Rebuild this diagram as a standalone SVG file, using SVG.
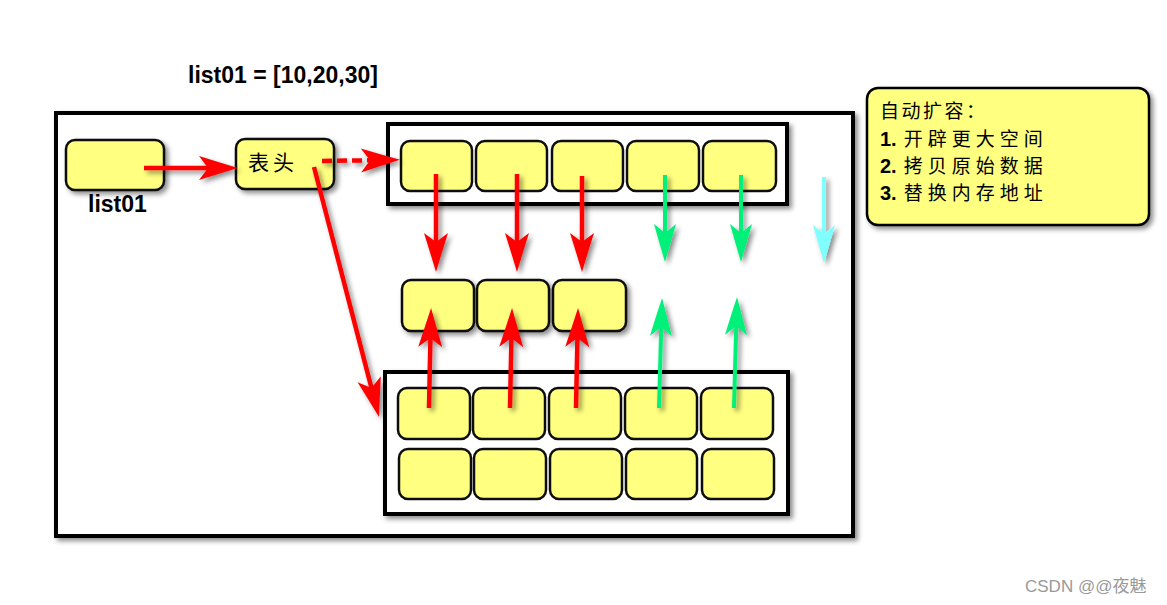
<svg xmlns="http://www.w3.org/2000/svg" width="1167" height="605" viewBox="0 0 1167 605">
<style>
  .box { fill: #ffffff; stroke: #000000; stroke-width: 4; }
  .cell { fill: #ffff80; stroke: #111111; stroke-width: 2.5; }
  .lbl { font-family: "Liberation Sans", Arial, sans-serif; font-weight: bold; fill: #000; }
  .cn { font-family: "Noto Sans CJK SC", sans-serif; fill: #000; }
  .red { stroke: #ff0000; stroke-width: 4.5; fill: none; }
  .green { stroke: #00f07a; stroke-width: 4; fill: none; }
  .cyan { stroke: #80ffff; stroke-width: 4; fill: none; }
</style>
<defs>
  <filter id="sh" x="-20%" y="-20%" width="150%" height="150%">
    <feDropShadow dx="3" dy="3" stdDeviation="2.5" flood-color="#000" flood-opacity="0.45"/>
  </filter>
  <marker id="hr" viewBox="-40 -13 42 26" refX="-12" refY="0" markerWidth="42" markerHeight="26" markerUnits="userSpaceOnUse" orient="auto">
    <path d="M0,0 Q-20,-6 -39,-12 L-30,0 L-39,12 Q-20,6 0,0 Z" fill="#ff0000"/>
  </marker>
  <marker id="hg" viewBox="-40 -13 42 26" refX="-12" refY="0" markerWidth="42" markerHeight="26" markerUnits="userSpaceOnUse" orient="auto">
    <path d="M0,0 Q-20,-6 -38,-11 L-29,0 L-38,11 Q-20,6 0,0 Z" fill="#00f07a"/>
  </marker>
  <marker id="hc" viewBox="-40 -13 42 26" refX="-12" refY="0" markerWidth="42" markerHeight="26" markerUnits="userSpaceOnUse" orient="auto">
    <path d="M0,0 Q-20,-6 -38,-11 L-29,0 L-38,11 Q-20,6 0,0 Z" fill="#80ffff"/>
  </marker>
</defs>
<rect width="1167" height="605" fill="#ffffff"/>

<text id="title" class="lbl" x="188" y="83" font-size="23">list01 = [10,20,30]</text>

<g id="outer" filter="url(#sh)">
  <rect class="box" x="56" y="113" width="797" height="423"/>
</g>

<g id="list01">
  <rect class="cell" x="66" y="140" width="98" height="50" rx="9" filter="url(#sh)"/>
  <text class="lbl" x="88" y="212" font-size="23">list01</text>
</g>

<g id="head">
  <rect class="cell" x="236" y="139" width="98" height="50" rx="9" filter="url(#sh)"/>
  <text class="cn" x="248" y="170" font-size="21" letter-spacing="4">表头</text>
</g>

<g id="oldArray" filter="url(#sh)">
  <rect class="box" x="388" y="124" width="399" height="80"/>
  <rect class="cell" x="401" y="141" width="71" height="50" rx="9"/>
  <rect class="cell" x="476" y="141" width="71" height="50" rx="9"/>
  <rect class="cell" x="552" y="141" width="71" height="50" rx="9"/>
  <rect class="cell" x="627" y="141" width="72" height="50" rx="9"/>
  <rect class="cell" x="703" y="141" width="73" height="50" rx="9"/>
</g>

<g id="data" filter="url(#sh)">
  <rect class="cell" x="402" y="280" width="72" height="51" rx="9"/>
  <rect class="cell" x="477" y="280" width="72" height="51" rx="9"/>
  <rect class="cell" x="553" y="280" width="73" height="51" rx="9"/>
</g>

<g id="newArray" filter="url(#sh)">
  <rect class="box" x="385" y="372" width="403" height="142"/>
  <rect class="cell" x="398" y="388" width="72" height="51" rx="9"/>
  <rect class="cell" x="473" y="388" width="72" height="51" rx="9"/>
  <rect class="cell" x="549" y="388" width="72" height="51" rx="9"/>
  <rect class="cell" x="625" y="388" width="72" height="51" rx="9"/>
  <rect class="cell" x="701" y="388" width="72" height="51" rx="9"/>
  <rect class="cell" x="399" y="449" width="72" height="50" rx="9"/>
  <rect class="cell" x="474" y="449" width="72" height="50" rx="9"/>
  <rect class="cell" x="550" y="449" width="72" height="50" rx="9"/>
  <rect class="cell" x="626" y="449" width="71" height="50" rx="9"/>
  <rect class="cell" x="702" y="449" width="72" height="50" rx="9"/>
</g>

<g id="connectors" filter="url(#sh)">
  <line class="red" x1="144" y1="168" x2="226" y2="168" marker-end="url(#hr)"/>
  <line class="red" x1="322" y1="161" x2="388" y2="160" stroke-dasharray="10 5" marker-end="url(#hr)"/>
  <line class="red" x1="314" y1="167" x2="376" y2="405.4" marker-end="url(#hr)"/>
  <line class="red" x1="436" y1="174" x2="436" y2="260" marker-end="url(#hr)"/>
  <line class="red" x1="517" y1="174" x2="517" y2="260" marker-end="url(#hr)"/>
  <line class="red" x1="582" y1="176" x2="582" y2="260" marker-end="url(#hr)"/>
  <line class="green" x1="665" y1="175" x2="665" y2="250" marker-end="url(#hg)"/>
  <line class="green" x1="741" y1="175" x2="741" y2="250" marker-end="url(#hg)"/>
  <line class="cyan" x1="824" y1="177" x2="824" y2="251" marker-end="url(#hc)"/>
  <line class="red" x1="429" y1="408" x2="430.8" y2="320" marker-end="url(#hr)"/>
  <line class="red" x1="510" y1="408" x2="511.8" y2="320" marker-end="url(#hr)"/>
  <line class="red" x1="576" y1="408" x2="577.8" y2="320" marker-end="url(#hr)"/>
  <line class="green" x1="659" y1="408" x2="661.7" y2="310" marker-end="url(#hg)"/>
  <line class="green" x1="734" y1="408" x2="736.7" y2="309" marker-end="url(#hg)"/>
</g>

<g id="info">
  <rect x="867" y="88" width="282" height="137" rx="11" fill="#ffff80" stroke="#000" stroke-width="2.5" filter="url(#sh)"/>
  <text class="cn" x="880" y="118" font-size="19" letter-spacing="2.5">自动扩容：</text>
  <text x="880" y="146" font-size="19"><tspan class="lbl" font-size="20">1.</tspan><tspan class="cn" dx="7" letter-spacing="5">开辟更大空间</tspan></text>
  <text x="880" y="173" font-size="19"><tspan class="lbl" font-size="20">2.</tspan><tspan class="cn" dx="7" letter-spacing="5">拷贝原始数据</tspan></text>
  <text x="880" y="200" font-size="19"><tspan class="lbl" font-size="20">3.</tspan><tspan class="cn" dx="7" letter-spacing="5">替换内存地址</tspan></text>
</g>

<text id="watermark" x="1025" y="592" font-size="17" fill="#999999" font-family="'Liberation Sans', 'Noto Sans CJK SC', sans-serif">CSDN @@夜魅</text>
</svg>
